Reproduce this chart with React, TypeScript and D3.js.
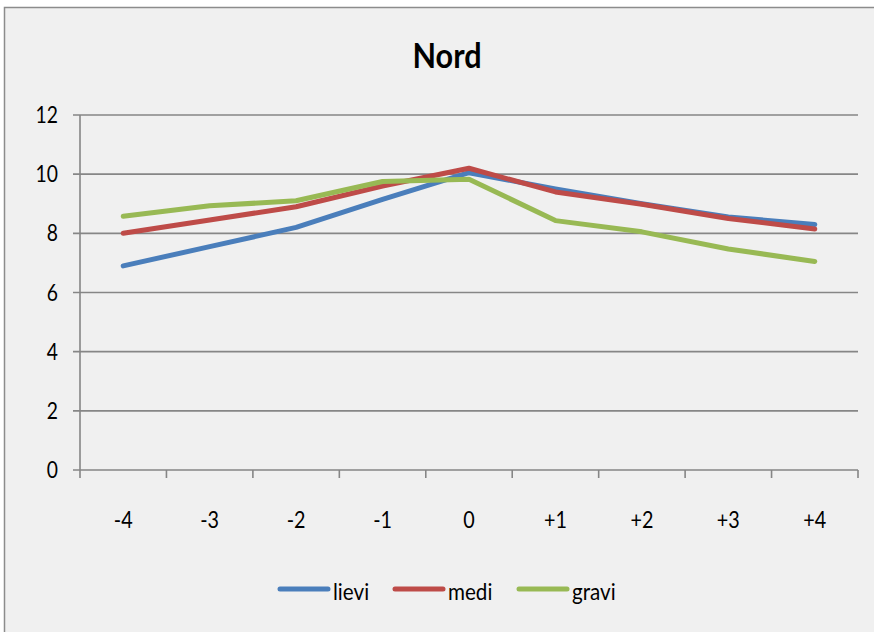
import React, { useEffect, useRef } from 'react';
import * as d3 from 'd3';

const categories = ['-4', '-3', '-2', '-1', '0', '+1', '+2', '+3', '+4'];
const lievi = [6.9, 7.55, 8.2, 9.15, 10.05, 9.5, 9.0, 8.55, 8.3];
const medi = [8.0, 8.45, 8.9, 9.6, 10.2, 9.4, 8.98, 8.5, 8.15];
const gravi = [8.58, 8.93, 9.1, 9.75, 9.83, 8.43, 8.05, 7.47, 7.05];
const yTicks = [0, 2, 4, 6, 8, 10, 12];

const series = [
  { name: 'lievi', values: lievi, color: '#4a7ebb' },
  { name: 'medi', values: medi, color: '#be4b48' },
  { name: 'gravi', values: gravi, color: '#98b954' },
];

const W = 874;
const H = 632;
const FONT = 'Lato, "Liberation Sans", sans-serif';

const App = (): React.ReactElement => {
  const ref = useRef<SVGSVGElement>(null);

  useEffect(() => {
    if (!ref.current) return;
    const svg = d3.select(ref.current);
    svg.selectAll('*').remove();

    const margin = { top: 115, right: 16, bottom: 162, left: 80 };

    // squeezed text, like the narrow font of the original
    const label = (
      g: d3.Selection<any, any, any, any>,
      x: number,
      yy: number,
      txt: string,
      size: number,
      sx: number,
      anchor = 'start',
      weight = 'normal',
    ) =>
      g
        .append('text')
        .attr('transform', `translate(${x},${yy}) scale(${sx},1)`)
        .attr('text-anchor', anchor)
        .attr('font-family', FONT)
        .attr('font-size', size)
        .attr('font-weight', weight)
        .attr('fill', '#000')
        .text(txt);

    svg
      .append('rect')
      .attr('x', 4.5)
      .attr('y', 7.5)
      .attr('width', W + 10)
      .attr('height', H + 10)
      .attr('fill', '#f0f0f0')
      .attr('stroke', '#8c8c8c')
      .attr('stroke-width', 1.5);

    label(svg, 447, 68, 'Nord', 34, 0.9, 'middle', 'bold');

    const x = d3
      .scaleBand()
      .domain(categories)
      .range([margin.left, W - margin.right]);
    const y = d3
      .scaleLinear()
      .domain([0, 12])
      .range([H - margin.bottom, margin.top]);

    // gridlines + y ticks
    svg
      .append('g')
      .selectAll('line')
      .data(yTicks)
      .join('line')
      .attr('x1', margin.left - 7)
      .attr('x2', W - margin.right)
      .attr('y1', (d) => y(d))
      .attr('y2', (d) => y(d))
      .attr('stroke', '#868686')
      .attr('stroke-width', 1.6);

    const yl = svg.append('g');
    yTicks.forEach((t) => label(yl, 58, y(t) + 8, String(t), 23, 0.84, 'end'));

    // y axis line
    svg
      .append('line')
      .attr('x1', margin.left)
      .attr('x2', margin.left)
      .attr('y1', y(12))
      .attr('y2', y(0))
      .attr('stroke', '#868686')
      .attr('stroke-width', 1.6);

    // x ticks at band boundaries
    const bounds = categories.map((c) => x(c) as number).concat([W - margin.right]);
    svg
      .append('g')
      .selectAll('line')
      .data(bounds)
      .join('line')
      .attr('x1', (d) => d)
      .attr('x2', (d) => d)
      .attr('y1', y(0))
      .attr('y2', y(0) + 8)
      .attr('stroke', '#868686')
      .attr('stroke-width', 1.6);

    const xl = svg.append('g');
    categories.forEach((c) =>
      label(xl, (x(c) as number) + x.bandwidth() / 2, 528, c, 23, 0.86, 'middle'),
    );

    const line = d3
      .line<number>()
      .x((_, i) => (x(categories[i]) as number) + x.bandwidth() / 2)
      .y((d) => y(d));

    series.forEach((s) => {
      svg
        .append('path')
        .attr('d', line(s.values) as string)
        .attr('fill', 'none')
        .attr('stroke', s.color)
        .attr('stroke-width', 5)
        .attr('stroke-linecap', 'round')
        .attr('stroke-linejoin', 'round');
    });

    // legend
    const legendX = [280, 395, 519];
    const lg = svg.append('g');
    series.forEach((s, i) => {
      lg.append('line')
        .attr('x1', legendX[i])
        .attr('x2', legendX[i] + 48)
        .attr('y1', 589)
        .attr('y2', 589)
        .attr('stroke', s.color)
        .attr('stroke-width', 5)
        .attr('stroke-linecap', 'round');
      label(lg, legendX[i] + 53, 600, s.name, 24, 0.86);
    });
  }, []);

  return (
    <svg
      ref={ref}
      width={W}
      height={H}
      style={{ position: 'fixed', left: 0, top: 0, background: '#fff' }}
    />
  );
};

export default App;
